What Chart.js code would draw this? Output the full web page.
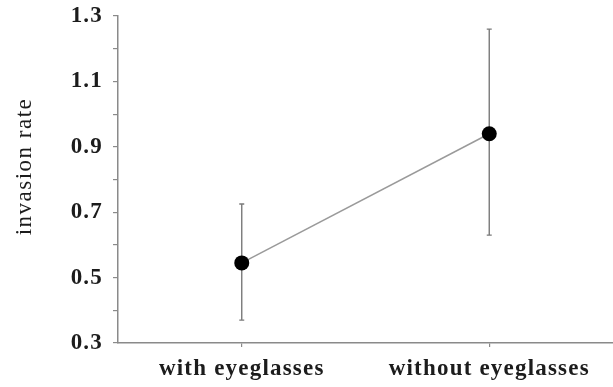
<!DOCTYPE html>
<html>
<head>
<meta charset="utf-8">
<script src="https://cdn.jsdelivr.net/npm/chart.js@4.4.1/dist/chart.umd.min.js"></script>
<style>
  html, body { margin: 0; padding: 0; background: #fff; }
  #wrap { width: 613px; height: 387px; }
</style>
</head>
<body>
<div id="wrap"><canvas id="c"></canvas></div>
<script>
// Groups on the x axis
const categories = ['with eyeglasses', 'without eyeglasses'];
// Mean invasion rate per group
const meanRate = [0.545, 0.94];
// Error bar ends (lower / upper) per group
const lowerRate = [0.37, 0.63];
const upperRate = [0.725, 1.26];
// Labelled ticks on the y axis (minor ticks every 0.1 stay unlabelled)
const yTickLabels = ['0.3', '0.5', '0.7', '0.9', '1.1', '1.3'];
const yTitle = 'invasion rate';

const TEXT = '#1c1c1c';
const AXIS = '#8a8a8a';
const FONT = 'Liberation Serif, Times New Roman, serif';
const LABEL_FONT = { family: FONT, size: 23, weight: 'bold' };

// Slightly wider letter spacing for all canvas text
const spacing = {
  id: 'spacing',
  beforeUpdate(chart) { chart.ctx.letterSpacing = '1.2px'; },
  beforeLayout(chart) { chart.ctx.letterSpacing = '1.2px'; },
  beforeDraw(chart) { chart.ctx.letterSpacing = '1.2px'; }
};

// Vertical error bars with small caps, drawn under the points
const errorBars = {
  id: 'errorBars',
  beforeDatasetsDraw(chart) {
    const { ctx, scales: { x, y } } = chart;
    ctx.save();
    ctx.strokeStyle = '#7a7a7a';
    ctx.lineWidth = 1.4;
    categories.forEach((c, i) => {
      const px = x.getPixelForValue(i);
      const yTop = y.getPixelForValue(upperRate[i]);
      const yBot = y.getPixelForValue(lowerRate[i]);
      ctx.beginPath();
      ctx.moveTo(px, yTop); ctx.lineTo(px, yBot);
      ctx.moveTo(px - 2.5, yTop); ctx.lineTo(px + 2.5, yTop);
      ctx.moveTo(px - 2.5, yBot); ctx.lineTo(px + 2.5, yBot);
      ctx.stroke();
    });
    ctx.restore();
  }
};

// Rotated y-axis title, sitting a little above the axis middle
const axisTitle = {
  id: 'axisTitle',
  afterDraw(chart) {
    const { ctx, chartArea } = chart;
    const cy = (chartArea.top + chartArea.bottom) / 2 - 13;
    ctx.save();
    ctx.letterSpacing = '1.5px';
    ctx.translate(25, cy);
    ctx.rotate(-Math.PI / 2);
    ctx.font = `23px ${FONT}`;
    ctx.fillStyle = TEXT;
    ctx.textAlign = 'center';
    ctx.textBaseline = 'middle';
    ctx.fillText(yTitle, 0, 0);
    ctx.restore();
  }
};

new Chart(document.getElementById('c'), {
  type: 'line',
  data: {
    labels: categories,
    datasets: [{
      data: meanRate,
      borderColor: '#9a9a9a',
      borderWidth: 1.5,
      pointRadius: 7.5,
      pointHoverRadius: 7.5,
      pointBackgroundColor: '#000',
      pointBorderColor: '#000',
      pointBorderWidth: 0,
      tension: 0
    }]
  },
  options: {
    responsive: true,
    maintainAspectRatio: false,
    animation: false,
    events: [],
    layout: { autoPadding: false, padding: { top: 16, right: 0, left: 0, bottom: 0 } },
    plugins: { legend: { display: false }, tooltip: { enabled: false } },
    scales: {
      x: {
        type: 'category',
        offset: true,
        afterFit(s) { s.height = 44; s.paddingLeft = 0; s.paddingRight = 0; },
        grid: { drawOnChartArea: false, drawTicks: true, tickLength: 4, offset: false, color: AXIS, lineWidth: 1.2 },
        border: { display: true, color: AXIS, width: 1.5 },
        ticks: { color: TEXT, font: LABEL_FONT, padding: 8, maxRotation: 0 }
      },
      y: {
        min: 0.3,
        max: 1.3,
        afterFit(s) { s.width = 118; s.paddingTop = 0; s.paddingBottom = 0; },
        grid: { drawOnChartArea: false, drawTicks: true, tickLength: 5, color: AXIS, lineWidth: 1.2 },
        border: { display: true, color: AXIS, width: 1.5 },
        ticks: {
          stepSize: 0.1,
          autoSkip: false,
          color: TEXT,
          font: LABEL_FONT,
          padding: 10,
          callback(v) {
            const s = Number(v).toFixed(1);
            return yTickLabels.includes(s) ? s : '';
          }
        }
      }
    }
  },
  plugins: [spacing, errorBars, axisTitle]
});
</script>
</body>
</html>
